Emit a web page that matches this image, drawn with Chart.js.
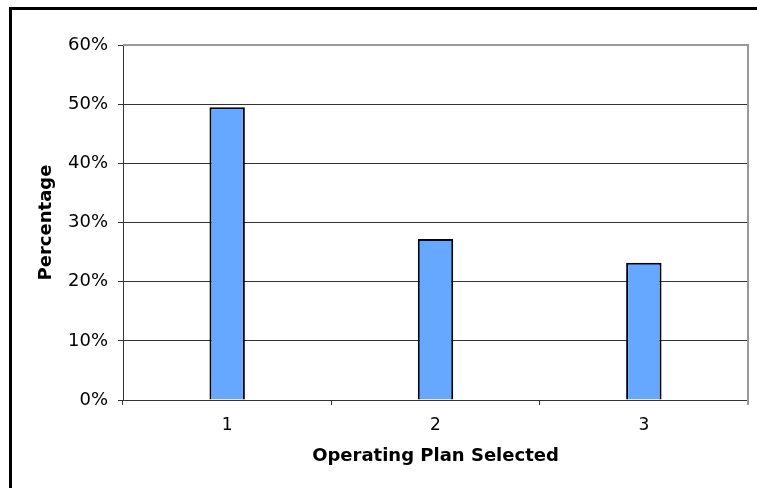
<!DOCTYPE html>
<html>
<head>
<meta charset="utf-8">
<script src="https://cdn.jsdelivr.net/npm/chart.js@4"></script>
<style>
  html, body { margin: 0; padding: 0; background: #fff; }
  #wrap { width: 757px; height: 488px; position: relative; }
</style>
</head>
<body>
<div id="wrap"><canvas id="c" width="757" height="488"></canvas></div>
<script>
const categories = ['1', '2', '3'];
const percentages = [49.5, 27.2, 23.2];
const yTicks = [0, 10, 20, 30, 40, 50, 60];

const framePlugin = {
  id: 'frame',
  beforeDraw(chart) {
    const ctx = chart.ctx;
    ctx.save();
    ctx.fillStyle = '#fff';
    ctx.fillRect(0, 0, chart.width, chart.height);
    ctx.fillStyle = '#000';
    ctx.fillRect(9, 7, chart.width - 9, 3);
    ctx.fillRect(9, 7, 3, chart.height - 7);
    ctx.restore();
  },
  afterDatasetsDraw(chart) {
    const ctx = chart.ctx;
    const a = chart.chartArea;
    ctx.save();
    ctx.strokeStyle = '#999';
    ctx.lineWidth = 2;
    ctx.beginPath();
    ctx.moveTo(a.left, a.top);
    ctx.lineTo(a.right, a.top);
    ctx.lineTo(a.right, a.bottom + 5);
    ctx.stroke();
    ctx.restore();
  }
};

new Chart(document.getElementById('c'), {
  type: 'bar',
  data: {
    labels: categories,
    datasets: [{
      data: percentages,
      backgroundColor: '#66A8FF',
      borderColor: '#000',
      borderWidth: 2,
      borderSkipped: 'bottom',
      categoryPercentage: 1,
      barPercentage: 0.17
    }]
  },
  options: {
    responsive: false,
    animation: false,
    devicePixelRatio: 1,
    layout: { padding: { left: 36, top: 45, right: 9, bottom: 21 } },
    plugins: { legend: { display: false }, tooltip: { enabled: false } },
    scales: {
      x: {
        offset: true,
        grid: { offset: true, drawOnChartArea: false, drawTicks: true, tickLength: 5, color: '#333', lineWidth: 1 },
        border: { display: true, color: '#333', width: 1 },
        ticks: { color: '#000', font: { family: 'DejaVu Sans', size: 17 }, padding: 10 },
        title: { display: true, text: 'Operating Plan Selected', color: '#000', font: { family: 'DejaVu Sans', size: 18, weight: 'bold' }, padding: { top: 0, bottom: 0 } },
        afterFit(scale) { scale.height = 67; }
      },
      y: {
        min: 0, max: 60,
        afterBuildTicks(scale) { scale.ticks = yTicks.map(v => ({ value: v })); },
        grid: { color: '#333', lineWidth: 1, drawTicks: true, tickLength: 5 },
        border: { display: true, color: '#333', width: 1 },
        ticks: { color: '#000', font: { family: 'DejaVu Sans', size: 18 }, padding: 10, callback: v => v + '%' },
        title: { display: true, text: 'Percentage', color: '#000', font: { family: 'DejaVu Sans', size: 18, weight: 'bold' }, padding: { top: 0, bottom: 0 } },
        afterFit(scale) { scale.width = 87; }
      }
    }
  },
  plugins: [framePlugin]
});
</script>
</body>
</html>
